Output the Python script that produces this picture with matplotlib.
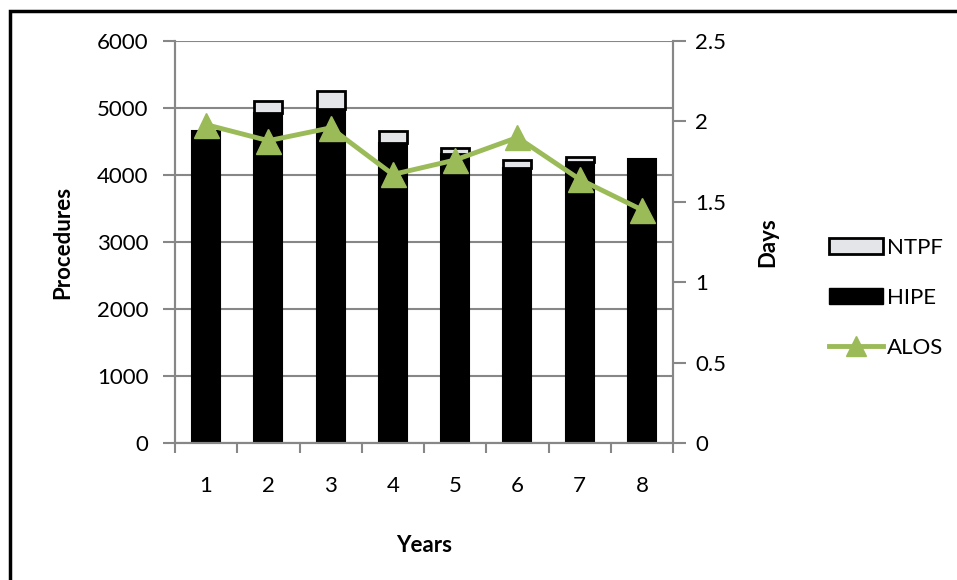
import numpy as np
import matplotlib.pyplot as plt
from matplotlib.patches import Rectangle
from matplotlib.lines import Line2D

plt.rcParams['font.family'] = ['Lato', 'DejaVu Sans']

years = [1, 2, 3, 4, 5, 6, 7, 8]
hipe = [4650, 4920, 4990, 4480, 4310, 4100, 4190, 4240]
ntpf = [0, 180, 260, 170, 90, 120, 80, 0]
alos = [1.98, 1.88, 1.96, 1.67, 1.76, 1.90, 1.64, 1.45]

axis_gray = '#878787'
green = '#9bbb59'
fs = 16

fig = plt.figure(figsize=(9.57, 5.8), dpi=100)
ax = fig.add_axes([175 / 957, 1 - 443 / 580, 498 / 957, 402 / 580])
ax2 = ax.twinx()

x = np.array(years)
ax.bar(x, hipe, width=0.45, color='black', edgecolor='black', linewidth=1.5, zorder=2)
ax.bar(x, ntpf, width=0.45, bottom=hipe, color='#e4e5e9', edgecolor='black', linewidth=2, zorder=2)

ax2.plot(x, alos, color=green, linewidth=3.5, marker='^', markersize=18, zorder=3)

ax.set_xlim(0.5, 8.5)
ax.set_ylim(0, 6000)
ax.set_yticks(np.arange(0, 6001, 1000))
ax2.set_ylim(0, 2.5)
ax2.set_yticks([0, 0.5, 1, 1.5, 2, 2.5])
ax2.set_yticklabels(['0', '0.5', '1', '1.5', '2', '2.5'])

ax.set_xticks(x)
ax.set_xticks(np.arange(0.5, 9, 1), minor=True)
ax.tick_params(axis='x', which='major', length=0, pad=24, labelsize=fs)
ax.tick_params(axis='x', which='minor', length=7, width=1.5, color=axis_gray)
ax.tick_params(axis='y', length=9, width=1.5, color=axis_gray, labelsize=fs, pad=10)
ax2.tick_params(axis='y', length=9, width=1.5, color=axis_gray, labelsize=fs, pad=7)

ax.yaxis.grid(True, color=axis_gray, linewidth=1.5, zorder=0)
ax.set_axisbelow(True)
for a in (ax, ax2):
    a.spines['top'].set_visible(False)
    for s in ('left', 'right', 'bottom'):
        a.spines[s].set_color(axis_gray)
        a.spines[s].set_linewidth(1.5)

ax.set_ylabel('Procedures', fontsize=fs, fontweight='bold', labelpad=17)
ax.set_xlabel('Years', fontsize=fs, fontweight='bold', labelpad=28)
ax2.set_ylabel('Days', fontsize=fs, fontweight='bold', labelpad=22)

handles = [
    Rectangle((0, 0), 1, 1, facecolor='#e4e5e9', edgecolor='black', linewidth=2),
    Rectangle((0, 0), 1, 1, facecolor='black', edgecolor='black'),
    Line2D([], [], color=green, linewidth=3.5, marker='^', markersize=15),
]
fig.legend(handles, ['NTPF', 'HIPE', 'ALOS'], loc='center left',
           bbox_to_anchor=(809 / 957, 1 - 298 / 580), frameon=False, fontsize=fs,
           handlelength=2.45, handleheight=0.7, handletextpad=0.15, labelspacing=1.35)

fig.patches.append(Rectangle((10 / 957, -0.1), 1.2, 1 - 11 / 580 + 0.1,
                             transform=fig.transFigure, fill=False,
                             edgecolor='black', linewidth=2.5))

fig.savefig('out.png', dpi=100)
